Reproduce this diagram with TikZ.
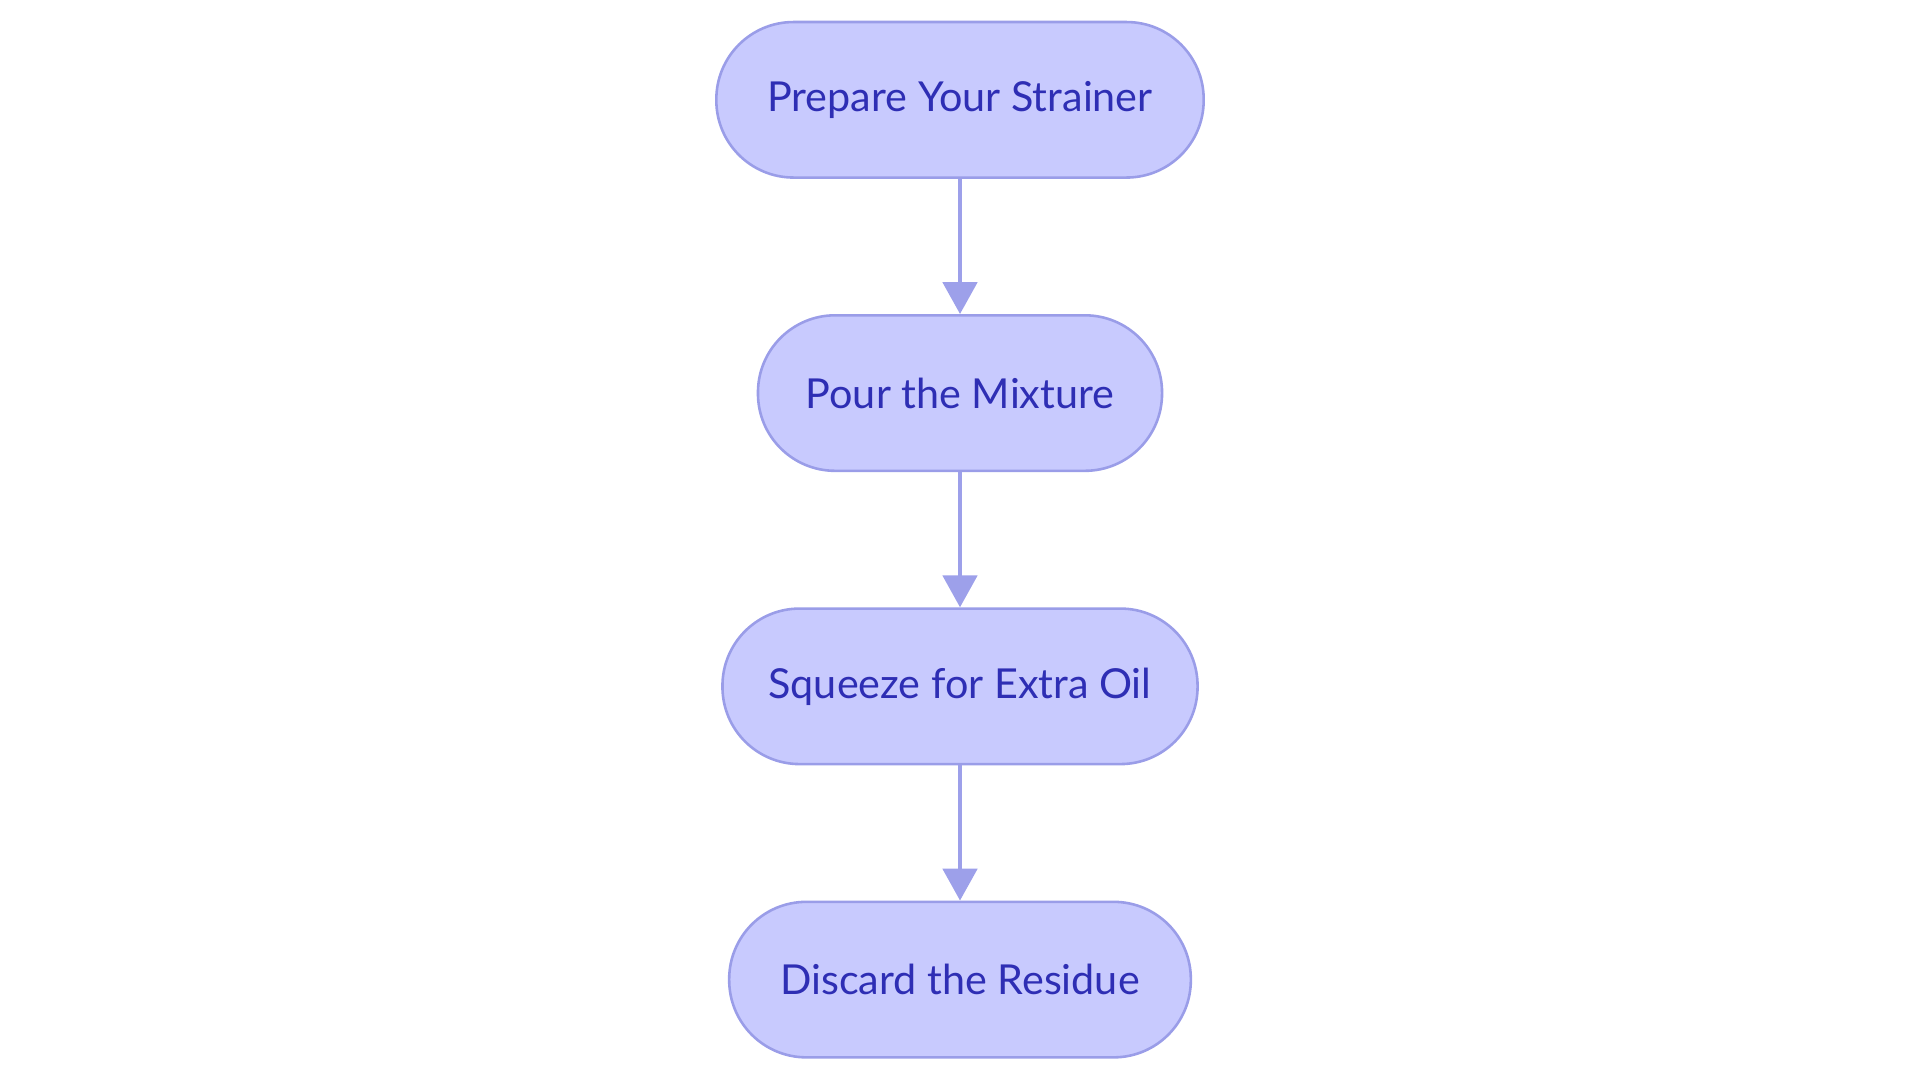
\documentclass[tikz,border=0pt]{standalone}
\usepackage{fontspec}
\setmainfont{Lato}
\usetikzlibrary{arrows.meta}
\definecolor{stepfill}{HTML}{C8CAFE}
\definecolor{stepdraw}{HTML}{9A9DE8}
\definecolor{steptext}{HTML}{2E2EB4}
\definecolor{arrowcol}{HTML}{9DA0EA}
\begin{document}
\begin{tikzpicture}[
		step_style/.style={rectangle,rounded corners=0.63cm,draw=stepdraw,fill=stepfill,line width=0.6pt,
			minimum height=1.27cm,text=steptext,font=\fontsize{9.6}{11}\selectfont},
		edge_style/.style={draw=arrowcol,line width=0.9pt,-{Triangle[length=0.26cm,width=0.28cm]}}]
		\useasboundingbox (0,0) rectangle (15.68,-8.84);
		
		\node[step_style,minimum width=3.98cm] (n1) at (7.84,-0.815) {Prepare Your Strainer};
		\node[step_style,minimum width=3.30cm] (n2) at (7.84,-3.21)  {Pour the Mixture};
		\node[step_style,minimum width=3.88cm] (n3) at (7.84,-5.605) {Squeeze for Extra Oil};
		\node[step_style,minimum width=3.77cm] (n4) at (7.84,-8.0)   {Discard the Residue};
		
		\draw[edge_style] (n1) -- (n2);
		\draw[edge_style] (n2) -- (n3);
		\draw[edge_style] (n3) -- (n4);
		\end{tikzpicture}
\end{document}
